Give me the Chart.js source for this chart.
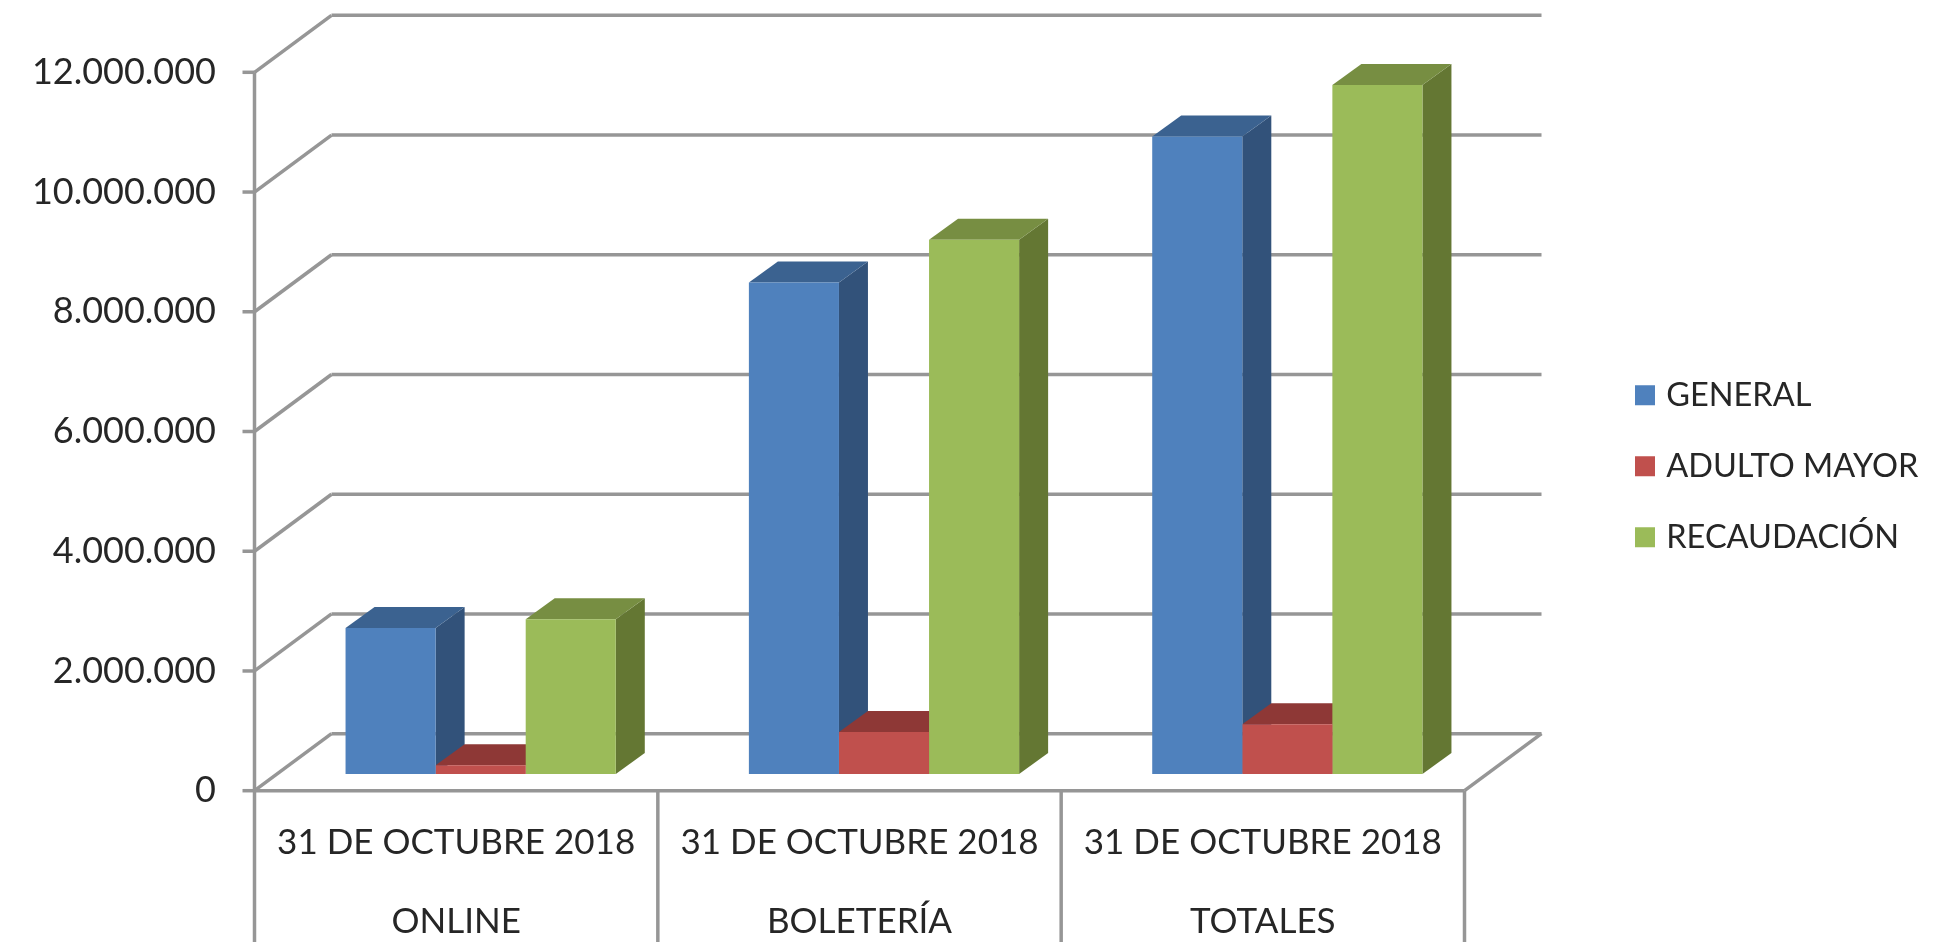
<!DOCTYPE html>
<html>
<head>
<meta charset="utf-8">
<style>html,body{margin:0;padding:0;background:#fff}canvas{display:block;filter:blur(0.6px)}</style>
<script src="https://cdn.jsdelivr.net/npm/chart.js@4"></script>
</head>
<body>
<canvas id="c" width="1940" height="942"></canvas>
<script>
const categories = [["31 DE OCTUBRE 2018","ONLINE"],["31 DE OCTUBRE 2018","BOLETERÍA"],["31 DE OCTUBRE 2018","TOTALES"]];
const general = [2440000, 8210000, 10650000];
const adultoMayor = [145000, 700000, 830000];
const recaudacion = [2585000, 8925000, 11510000];
const FONT = 'Lato, "Noto Sans", sans-serif';
const GRID = '#969696';
const depthX = 29, depthY = 21;      // bar depth
const wallX = 77, wallY = 57;        // wall depth
const frontShift = 24.5;             // bars sit this far right of the floor's front edge

const faces = {
  '#4F81BD': {side:'#32527A', top:'#3B6290'},
  '#C0504D': {side:'#8E3836', top:'#8E3836'},
  '#9BBB59': {side:'#647733', top:'#778E42'}
};

const walls = {
  id:'walls',
  beforeDatasetsDraw(chart){
    const {ctx, chartArea:a, scales:{x,y}} = chart;
    const left = a.left - frontShift, right = a.right - frontShift, bottom = y.getPixelForValue(0);
    ctx.save();
    ctx.strokeStyle = GRID; ctx.lineWidth = 3.5; ctx.lineCap='butt';
    const seg=(x1,y1,x2,y2)=>{ctx.beginPath();ctx.moveTo(x1,y1);ctx.lineTo(x2,y2);ctx.stroke();};
    y.ticks.forEach(t=>{
      const py = y.getPixelForValue(t.value);
      seg(left-12,py,left,py);
      seg(left,py,left+wallX,py-wallY);
      seg(left+wallX,py-wallY,right+wallX,py-wallY);
    });
    seg(left,bottom,right,bottom);
    seg(right,bottom,right+wallX,bottom-wallY);
    seg(left,y.getPixelForValue(12000000),left,chart.height);
    categories.forEach((_,i)=>{
      const px = x.getPixelForValue(i) + (x.getPixelForValue(1)-x.getPixelForValue(0))/2 - frontShift;
      seg(px,bottom,px,chart.height);
    });
    // depth faces of the bars, left to right
    const bars=[];
    chart.data.datasets.forEach((ds,di)=>{
      chart.getDatasetMeta(di).data.forEach(b=>bars.push({b,c:ds.backgroundColor}));
    });
    bars.sort((p,q)=>p.b.x-q.b.x);
    const poly=(pts,col)=>{ctx.fillStyle=col;ctx.beginPath();pts.forEach((p,i)=>i?ctx.lineTo(p[0],p[1]):ctx.moveTo(p[0],p[1]));ctx.closePath();ctx.fill();};
    bars.forEach(({b,c})=>{
      const l=b.x-b.width/2, r=b.x+b.width/2, t=b.y, base=b.base;
      poly([[r,t],[r+depthX,t-depthY],[r+depthX,base-depthY],[r,base]],faces[c].side);
      poly([[l,t],[l+depthX,t-depthY],[r+depthX,t-depthY],[r,t]],faces[c].top);
    });
    ctx.restore();
  },
  afterLayout(chart){
    const lg = chart.legend;
    const pad = lg.options.labels.padding;
    lg.left = 1640 - pad; lg.right = lg.left + lg.width;
    lg.top = 379 - pad; lg.bottom = lg.top + lg.height;
  }
};

new Chart(document.getElementById('c'),{
  type:'bar',
  data:{labels:categories,datasets:[
    {label:'GENERAL',data:general,backgroundColor:'#4F81BD',yAxisID:'yBars'},
    {label:'ADULTO MAYOR',data:adultoMayor,backgroundColor:'#C0504D',yAxisID:'yBars'},
    {label:'RECAUDACIÓN',data:recaudacion,backgroundColor:'#9BBB59',yAxisID:'yBars'}
  ]},
  plugins:[walls],
  options:{
    responsive:false,animation:false,
    layout:{padding:{left:0,right:451,top:72.3,bottom:0}},
    categoryPercentage:0.67,barPercentage:1,
    plugins:{
      tooltip:{enabled:false},
      legend:{position:'chartArea',align:'start',labels:{boxWidth:10,boxHeight:10,padding:38.5,color:'#262626',font:{family:FONT,size:32.5},
        generateLabels(chart){
          return chart.data.datasets.map((d,i)=>({text:d.label,fillStyle:d.backgroundColor,strokeStyle:d.backgroundColor,lineWidth:10,fontColor:'#262626',datasetIndex:i,hidden:false}));
        }}}
    },
    scales:{
      x:{
        grid:{display:false},border:{display:false},
        afterFit(s){s.height=151.3;s.paddingLeft=0;s.paddingRight=0;},
        ticks:{autoSkip:false,maxRotation:0,minRotation:0,labelOffset:-frontShift,padding:5,color:'#262626',font:{family:FONT,size:35,lineHeight:2.257}}
      },
      y:{
        min:0,max:12000000,position:'left',
        grid:{display:false,drawTicks:false},border:{display:false},
        afterFit(s){s.width=279;s.paddingTop=0;s.paddingBottom=0;},
        ticks:{stepSize:2000000,padding:63,color:'#262626',font:{family:FONT,size:36},
          callback:v=>String(v).replace(/\B(?=(\d{3})+$)/g,'.')}
      },
      yBars:{display:false,min:-279000,max:11721000}
    }
  }
});
</script>
</body>
</html>
